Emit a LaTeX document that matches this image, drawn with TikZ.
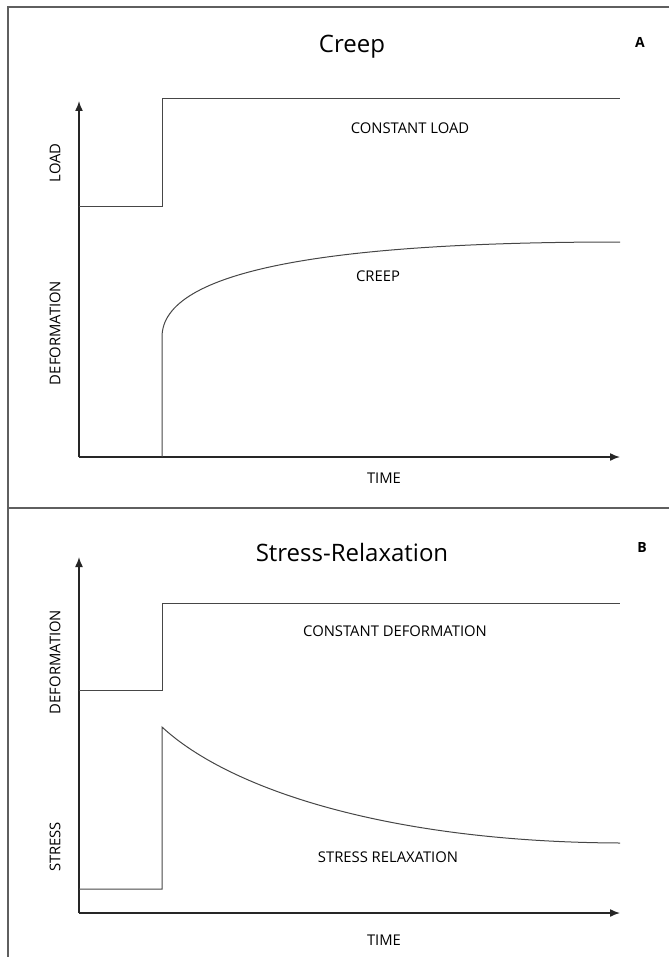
\documentclass[tikz,border=0pt]{standalone}
\usepackage{fontspec}
\setmainfont{Open Sans}
\usetikzlibrary{arrows.meta, positioning}
\definecolor{framegray}{RGB}{95,95,95}
\definecolor{stepgray}{RGB}{70,70,70}

\begin{document}
\begin{tikzpicture}[x=0.5pt, y=-0.5pt,
    axis/.style={line width=0.75pt, black!85, -{Latex[length=5pt, width=4pt]}},
    graphline/.style={line width=0.5pt, stepgray},
    lbl/.style={font=\fontsize{7.4}{8}\selectfont, inner sep=0pt},
    ylbl/.style={lbl, rotate=90},
    ttl/.style={font=\fontsize{12}{14}\selectfont, inner sep=0pt, anchor=base},
    tag/.style={font=\fontsize{7}{8}\selectfont\bfseries, inner sep=0pt, anchor=base}]
    \useasboundingbox (0,0) rectangle (669,957);

    % Frame
    \draw[framegray, line width=0.6pt] (669,7) -- (8,7) -- (8,957);
    \draw[framegray, line width=0.6pt] (8,508) -- (669,508);

    % ---- A: creep ----
    \node[ttl] (creepttl) at (352,53) {Creep};
    \node[tag] (taga) at (640,48) {A};

    % Axes
    \coordinate (oa) at (79,457);
    \coordinate (ytipa) at (79,101);
    \coordinate (xtipa) at (620,457);
    \draw[axis] (oa) -- (ytipa);
    \draw[axis] (oa) -- (xtipa);

    % Load step and creep curve
    \draw[graphline] (79,207) -- (162,207) -- (162,99) -- (620,99);
    \draw[graphline] (162,457) -- (162,337) .. controls (162,270) and (330,242) .. (620,242);

    % Labels
    \node[lbl] (loadtxt) at (410,128) {CONSTANT LOAD};
    \node[lbl] (creeptxt) at (378,276) {CREEP};
    \node[lbl] (timea) at (384,478) {TIME};
    \node[ylbl] (loadax) at (55,163) {LOAD};
    \node[ylbl] (deforma) at (55,333) {DEFORMATION};

    % ---- B: stress-relaxation ----
    \node[ttl] (relaxttl) at (352,561) {Stress-Relaxation};
    \node[tag] (tagb) at (642,552) {B};

    % Axes
    \coordinate (ob) at (79,913);
    \coordinate (ytipb) at (79,557);
    \coordinate (xtipb) at (620,913);
    \draw[axis] (ob) -- (ytipb);
    \draw[axis] (ob) -- (xtipb);

    % Deformation step and relaxation curve
    \draw[graphline] (79,690) -- (162,690) -- (162,603) -- (620,603);
    \draw[graphline] (79,889) -- (162,889) -- (162,727) .. controls (230,790) and (390,842) .. (620,843);

    % Labels
    \node[lbl] (deftxt) at (395,631) {CONSTANT DEFORMATION};
    \node[lbl] (relaxtxt) at (388,857) {STRESS RELAXATION};
    \node[lbl] (timeb) at (384,940) {TIME};
    \node[ylbl] (deformb) at (55,662) {DEFORMATION};
    \node[ylbl] (stressax) at (55,847) {STRESS};
\end{tikzpicture}
\end{document}
